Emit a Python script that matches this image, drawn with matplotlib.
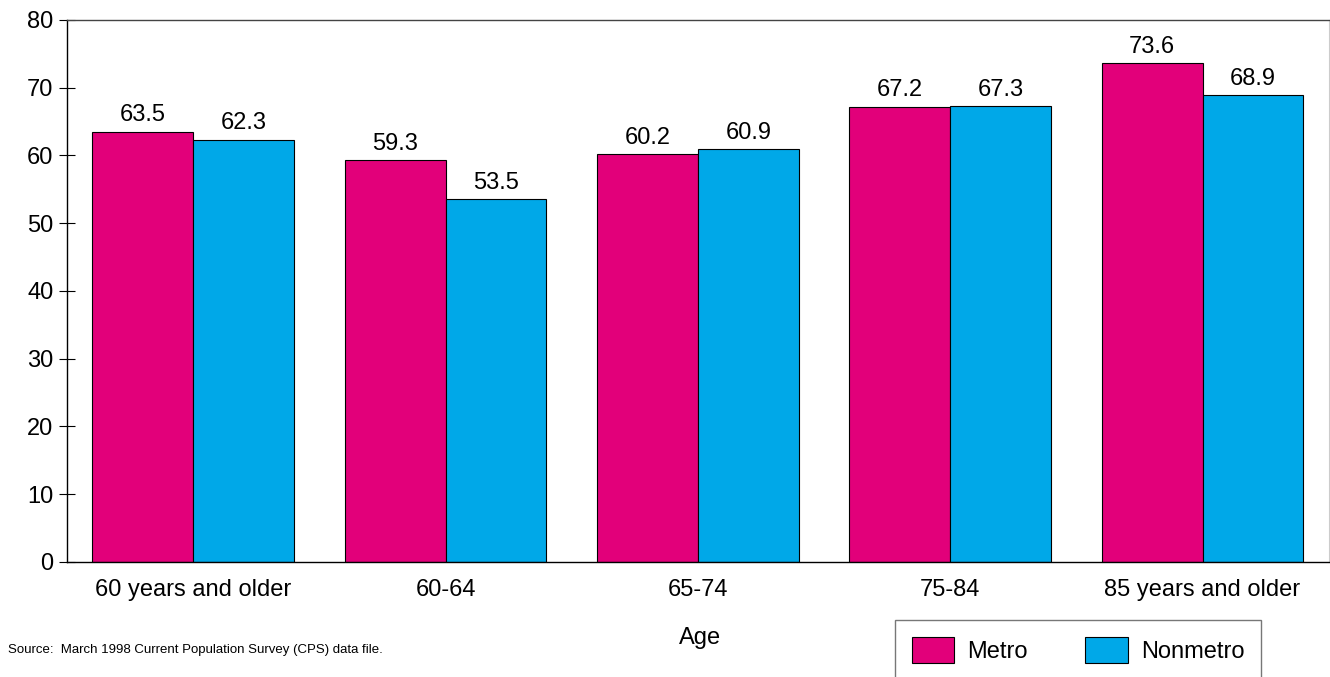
import numpy as np
import matplotlib.pyplot as plt

plt.rcParams['font.family'] = ['Liberation Sans', 'DejaVu Sans']

categories = ["60 years and older", "60-64", "65-74", "75-84", "85 years and older"]
metro = [63.5, 59.3, 60.2, 67.2, 73.6]
nonmetro = [62.3, 53.5, 60.9, 67.3, 68.9]

METRO_C = "#E2007A"
NONMETRO_C = "#00A8E8"
FS = 17

fig = plt.figure(figsize=(13.3, 6.77), dpi=100)
ax = fig.add_axes([0.0504, 0.17, 0.9486, 0.8005])

x = np.arange(len(categories))
w = 0.4
b1 = ax.bar(x - w/2, metro, w, color=METRO_C, edgecolor="black", linewidth=0.8, label="Metro")
b2 = ax.bar(x + w/2, nonmetro, w, color=NONMETRO_C, edgecolor="black", linewidth=0.8, label="Nonmetro")
for bars, vals in ((b1, metro), (b2, nonmetro)):
    for r, v in zip(bars, vals):
        ax.text(r.get_x() + r.get_width()/2, v + 0.8, f"{v:.1f}", ha="center", va="bottom", fontsize=FS)

ax.set_xlim(-0.5, 4.5)
ax.set_ylim(0, 80)
ax.set_yticks(range(0, 81, 10))
ax.set_xticks(x)
ax.set_xticklabels(categories, fontsize=FS)
ax.tick_params(axis="y", direction="inout", length=11.5, labelsize=FS, pad=4)
ax.tick_params(axis="x", length=0, pad=12)
for s in ("left", "bottom", "top"):
    ax.spines[s].set_linewidth(1.0)
ax.spines["top"].set_color("#444444")
ax.spines["right"].set_color("#cccccc")

fig.text(0.526, 0.058, "Age", ha="center", va="center", fontsize=FS)
fig.text(0.006, 0.04, "Source:  March 1998 Current Population Survey (CPS) data file.",
         ha="left", va="center", fontsize=9.5)

leg = fig.legend(handles=[b1, b2], loc="upper left", bbox_to_anchor=(0.673, 0.0842),
                 ncol=2, fontsize=FS, frameon=True, fancybox=False, edgecolor="#555555",
                 handlelength=1.8, handleheight=1.35, columnspacing=2.45, borderpad=0.7,
                 handletextpad=0.55, borderaxespad=0)
leg.get_frame().set_linewidth(1.0)

fig.savefig("out.png", dpi=100)
